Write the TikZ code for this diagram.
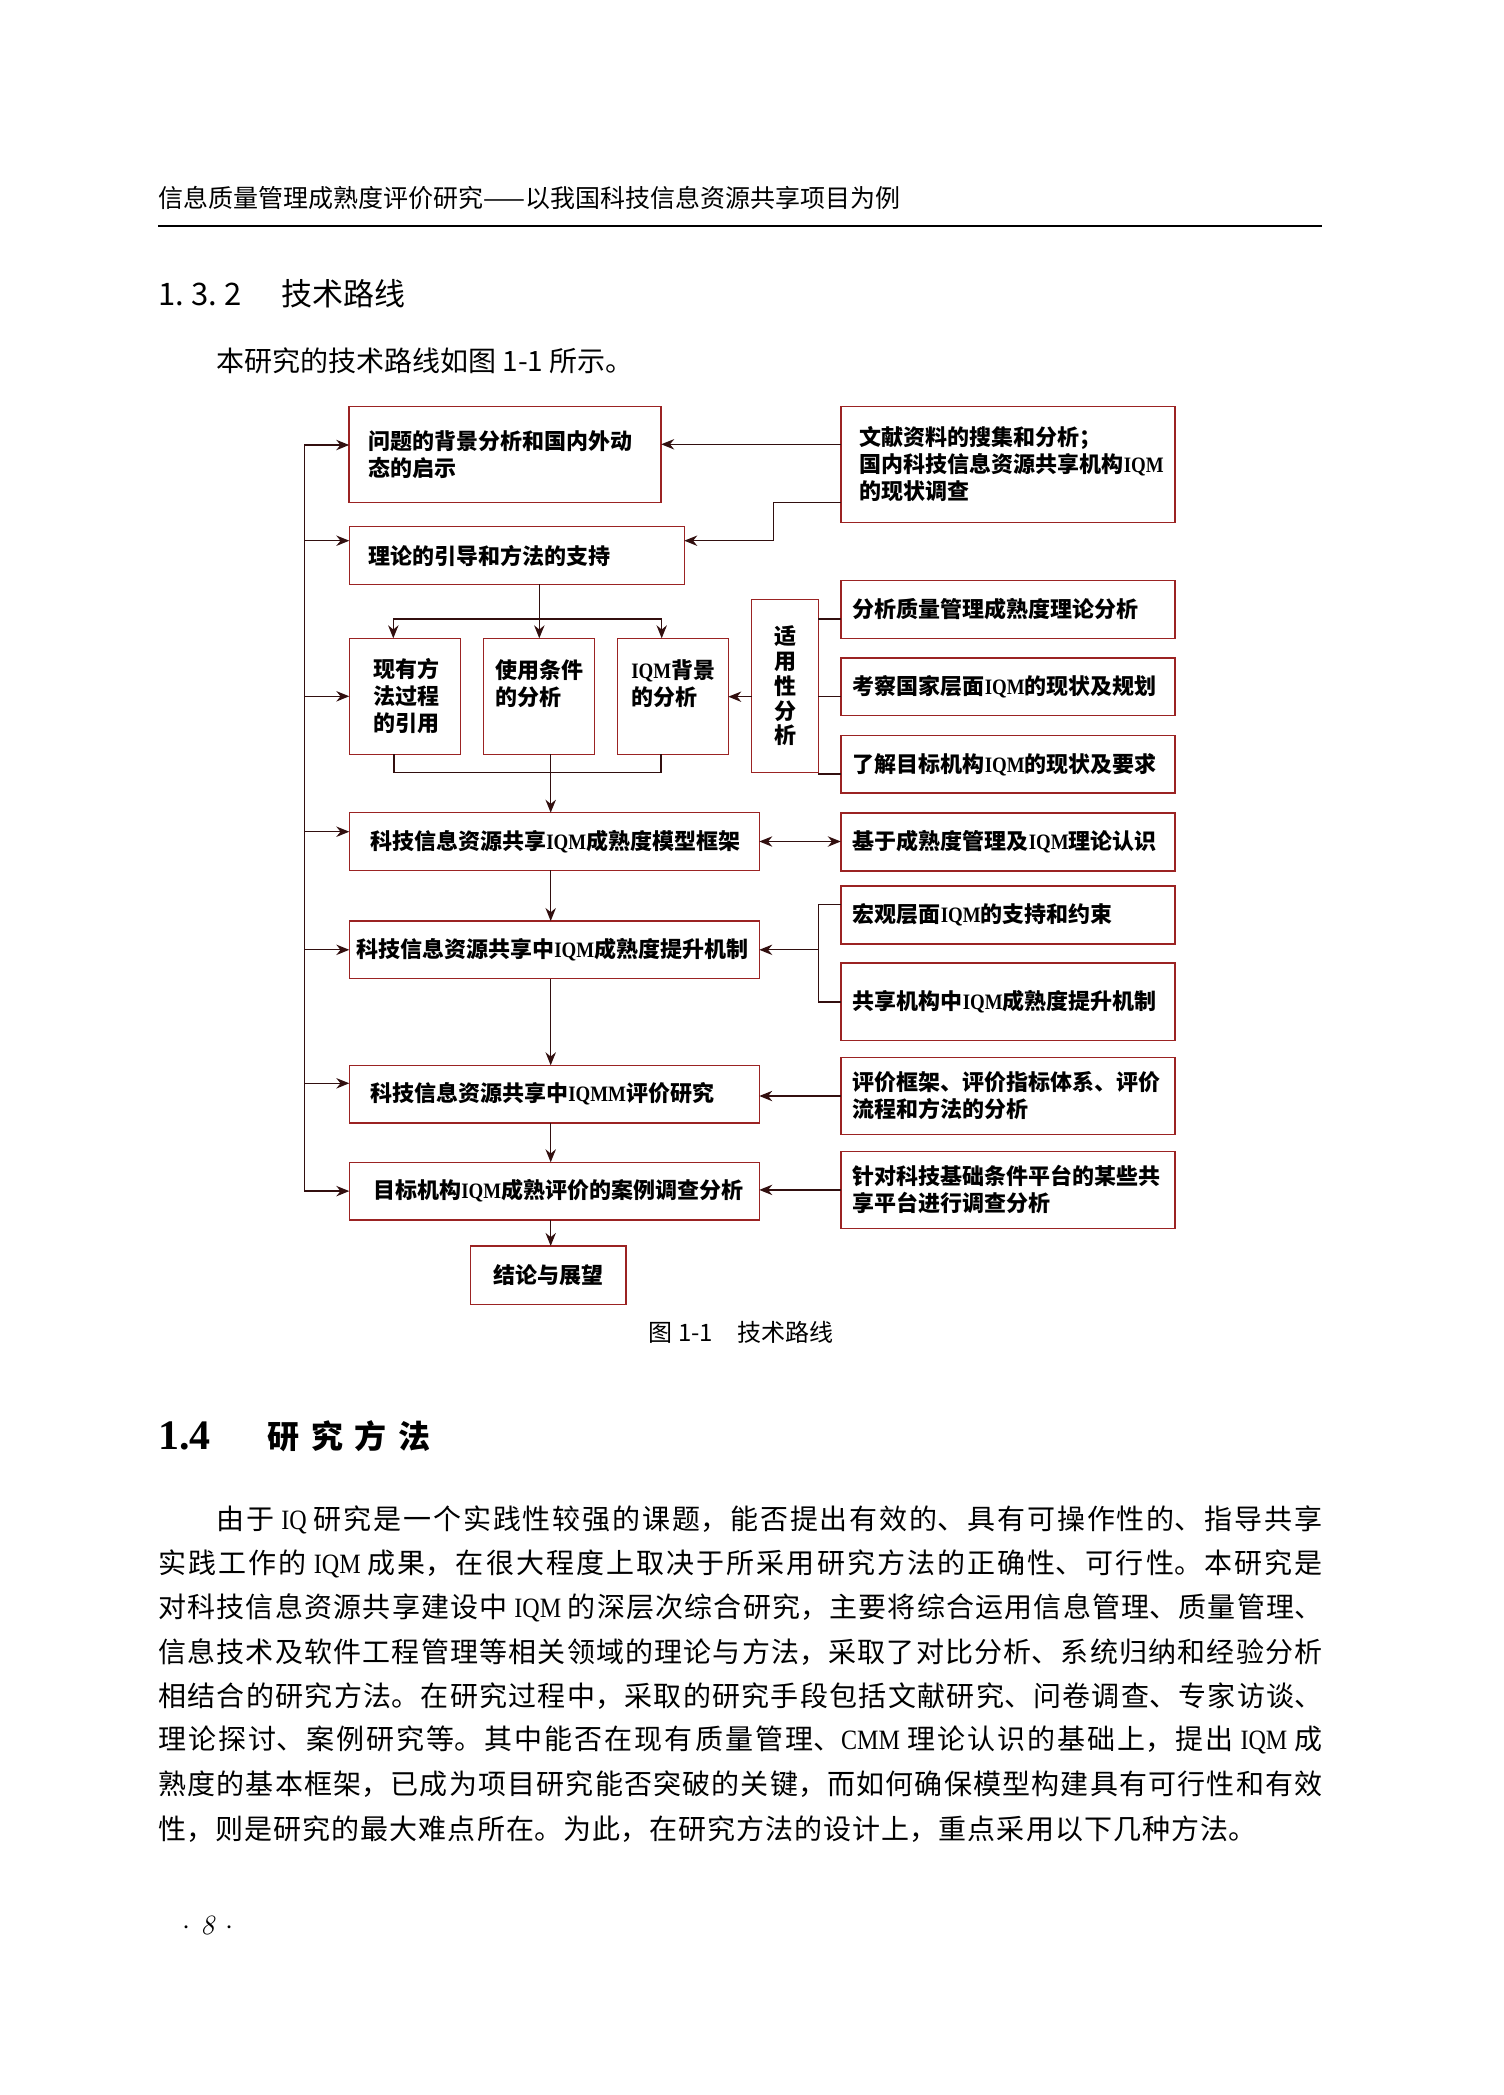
\documentclass[tikz,border=0pt]{standalone}
\usepackage{fontspec}
\usepackage{tikz}
\usetikzlibrary{arrows.meta,positioning}
\newfontfamily\cjk{Noto Sans CJK SC}
\newfontfamily\enfont[FakeStretch=0.86]{Liberation Serif}
\newfontfamily\headnum{Liberation Serif}
\definecolor{rim}{RGB}{155,35,35}
\definecolor{wire}{RGB}{50,15,15}
\newcommand{\ltn}[1]{{\enfont #1}}
\newcommand{\dfont}{\fontsize{11pt}{13.5pt}\cjk\bfseries}
\newcommand{\bodyfont}{\fontsize{14pt}{17pt}\cjk\XeTeXlinebreaklocale "zh"\XeTeXlinebreakskip=0pt plus 4pt\relax
  \parindent=0pt\parfillskip=0pt\tolerance=9999\relax}
\tikzset{
  blk/.style={draw=rim,line width=0.75pt,fill=white,inner sep=0pt,outer sep=0pt,align=left,font=\dfont},
  rbox/.style={minimum width=167.2pt,minimum height=28.8pt,text width=155.2pt},
  wbox/.style={minimum width=205pt,minimum height=28.8pt},
  arr/.style={-{Stealth[length=6.5pt,width=5.2pt]},line width=0.65pt,draw=wire},
  dbl/.style={{Stealth[length=6.5pt,width=5.2pt]}-{Stealth[length=6.5pt,width=5.2pt]},line width=0.65pt,draw=wire},
  lnk/.style={line width=0.65pt,draw=wire},
  bodyln/.style={anchor=west,inner sep=0pt,align=justify,font=\bodyfont},
  plain/.style={anchor=west,inner sep=0pt},
}

\begin{document}
\begin{tikzpicture}[x=0.5pt,y=-0.5pt]
  \fill[white] (0,0) rectangle (1504,2095);
  \useasboundingbox (0,0) rectangle (1504,2095);

  % running head
  \node[plain,font=\fontsize{12.5pt}{15pt}\cjk] (hd) at (158,198) {信息质量管理成熟度评价研究——以我国科技信息资源共享项目为例};
  \draw[line width=0.7pt] (158,226) -- (1322,226);
  \node[plain,font=\fontsize{15.5pt}{18pt}\cjk] (sec) at (158,294) {1.\hspace{3.5pt}3.\hspace{3.5pt}2\hspace{20pt}技术路线};
  \node[plain,font=\fontsize{14pt}{17pt}\cjk] (intro) at (216,361) {本研究的技术路线如图 1-1 所示。};

  % main column
  \node[blk,minimum width=156pt,minimum height=47.8pt,text width=137pt] (bg) at (505.2,454.5) {问题的背景分析和国内外动\\态的启示};
  \node[blk,minimum width=167.5pt,minimum height=28.8pt,text width=148.5pt] (th) at (516.8,555.5) {理论的引导和方法的支持};
  \node[blk,minimum width=55.7pt,minimum height=58pt,text width=31.7pt] (ma) at (405,696.3) {现有方\\法过程\\的引用};
  \node[blk,minimum width=55.5pt,minimum height=58pt,text width=43.5pt,right=11.3pt of ma] (mb) {使用条件\\的分析\\\mbox{}};
  \node[blk,minimum width=55.5pt,minimum height=58pt,text width=41.5pt,right=11.5pt of mb] (mc) {\ltn{IQM}背景\\的分析\\\mbox{}};
  \node[blk,align=center,minimum width=33.3pt,minimum height=86.7pt,font=\fontsize{11pt}{12.4pt}\cjk\bfseries] (sy) at (785,686) {适\\用\\性\\分\\析};
  \node[blk,wbox,text width=184pt] (mf) at (554.3,841.5) {科技信息资源共享\ltn{IQM}成熟度模型框架};
  \node[blk,wbox,text width=198pt,below=25.35pt of mf] (pm) {科技信息资源共享中\ltn{IQM}成熟度提升机制};
  \node[blk,wbox,text width=184pt,below=43.35pt of pm] (ev) {科技信息资源共享中\ltn{IQMM}评价研究};
  \node[blk,wbox,text width=181pt,below=19.7pt of ev] (cs) {目标机构\ltn{IQM}成熟评价的案例调查分析};
  \node[blk,align=center,minimum width=77.9pt,minimum height=29.2pt,below=13pt of cs,xshift=-3pt] (co) {结论与展望};

  % right column
  \node[blk,minimum width=167.2pt,minimum height=57.8pt,text width=148.2pt] (lit) at (1008,464.5) {文献资料的搜集和分析；\\国内科技信息资源共享机构\ltn{IQM}\\的现状调查};
  \node[blk,rbox] (r1) at (1008,609.5) {分析质量管理成熟度理论分析};
  \node[blk,rbox,below=9.85pt of r1] (r2) {考察国家层面\ltn{IQM}的现状及规划};
  \node[blk,rbox,below=10pt of r2] (r3) {了解目标机构\ltn{IQM}的现状及要求};
  \node[blk,rbox,below=10pt of r3] (jy) {基于成熟度管理及\ltn{IQM}理论认识};
  \node[blk,rbox,below=7.7pt of jy] (hg) {宏观层面\ltn{IQM}的支持和约束};
  \node[blk,rbox,minimum height=38.7pt,below=9.7pt of hg] (gx) {共享机构中\ltn{IQM}成熟度提升机制};
  \node[blk,rbox,minimum height=38.7pt,below=8.35pt of gx] (pj) {评价框架、评价指标体系、评价\\流程和方法的分析};
  \node[blk,rbox,minimum height=38.5pt,below=8.35pt of pj] (zd) {针对科技基础条件平台的某些共\\享平台进行调查分析};

  % feedback trunk on the left
  \coordinate (trunk) at (304.3,445);
  \foreach \n/\s in {bg/4.75,th/7.4,ma/0,mf/4.9,pm/0,ev/5.4,cs/0}{
    \coordinate (in\n) at ([yshift=\s pt]\n.west);
    \draw[arr] (trunk |- in\n) -- (in\n);
  }
  \draw[lnk] (trunk |- inbg) -- (trunk |- incs);

  % inputs from the right
  \coordinate (bgR) at ([yshift=5.1pt]bg.east);
  \draw[arr] (lit.west |- bgR) -- (bgR);
  \coordinate (thR) at ([yshift=7.4pt]th.east);
  \draw[arr] ([yshift=-18.9pt]lit.west) -- ++(-33.7pt,0) |- (thR);

  % split into the three methods
  \coordinate (thS) at ([xshift=11.25pt]th.south);
  \draw[lnk] (thS) -- ++(0,-17.35pt) coordinate (split);
  \foreach \n/\s in {ma/-5.85,mb/0.25,mc/-5.55}
    \draw[arr] (split) -| ([xshift=\s pt]\n.north);
  \draw[lnk] ([xshift=-5.5pt]ma.south) -- ++(0,-9.2pt) -| ([xshift=-5.9pt]mc.south);

  % spine
  \coordinate (spine) at (550.7,0);
  \foreach \a/\b in {mb/mf,mf/pm,pm/ev,ev/cs,cs/co}
    \draw[arr] (spine |- \a.south) -- (spine |- \b.north);

  % applicability analysis
  \coordinate (syL) at ([yshift=-5.35pt]sy.west);
  \draw[arr] (syL) -- (syL -| mc.east);
  \foreach \r in {r1,r2,r3}{
    \coordinate (rL) at ([yshift=-4.75pt]\r.west);
    \draw[lnk] (rL) -- (rL -| sy.east);
  }

  \draw[dbl] (mf.east) -- (mf.east -| jy.west);
  \coordinate (brk) at (818.3,0);
  \coordinate (hgL) at ([yshift=5.1pt]hg.west);
  \draw[lnk] (hgL) -| (brk |- gx.west) -- (gx.west);
  \draw[arr] (brk |- pm.east) -- (pm.east);
  \draw[arr] (pj.west) -- (pj.west -| ev.east);
  \draw[arr] (zd.west) -- (zd.west -| cs.east);

  \node[font=\fontsize{12pt}{14pt}\cjk] (cap) at (741,1332) {图 1-1\quad 技术路线};

  % section 1.4
  \node[plain,font=\fontsize{21pt}{24pt}\headnum\bfseries] (s14) at (158,1436) {1.4};
  \node[plain,font=\fontsize{16pt}{19pt}\cjk\bfseries] (t14) at (267,1436) {\hbox to 81.5pt{研\hfil 究\hfil 方\hfil 法}};

  \node[bodyln,text width=553pt] (p1) at (216,1520) {由于 \ltn{IQ} 研究是一个实践性较强的课题，能否提出有效的、具有可操作性的、指导共享};
  \node[bodyln,text width=582pt] (p2) at (158,1564) {实践工作的 \ltn{IQM} 成果，在很大程度上取决于所采用研究方法的正确性、可行性。本研究是};
  \node[bodyln,text width=582pt] (p3) at (158,1608) {对科技信息资源共享建设中 \ltn{IQM} 的深层次综合研究，主要将综合运用信息管理、质量管理、};
  \node[bodyln,text width=582pt] (p4) at (158,1652) {信息技术及软件工程管理等相关领域的理论与方法，采取了对比分析、系统归纳和经验分析};
  \node[bodyln,text width=582pt] (p5) at (158,1696) {相结合的研究方法。在研究过程中，采取的研究手段包括文献研究、问卷调查、专家访谈、};
  \node[bodyln,text width=582pt] (p6) at (158,1740) {理论探讨、案例研究等。其中能否在现有质量管理、\ltn{CMM} 理论认识的基础上，提出 \ltn{IQM} 成};
  \node[bodyln,text width=582pt] (p7) at (158,1784) {熟度的基本框架，已成为项目研究能否突破的关键，而如何确保模型构建具有可行性和有效};
  \node[bodyln,text width=549pt] (p8) at (158,1829) {性，则是研究的最大难点所在。为此，在研究方法的设计上，重点采用以下几种方法。};

  \node[font=\fontsize{14pt}{16pt}\selectfont] (pg) at (208,1925) {$\cdot$\hspace{5pt}\textit{8}\hspace{5pt}$\cdot$};
\end{tikzpicture}
\end{document}
